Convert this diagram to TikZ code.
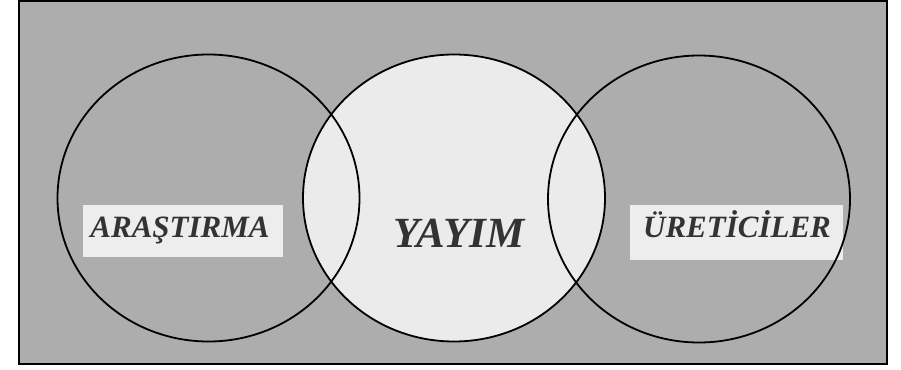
\documentclass[tikz,border=0pt]{standalone}
\usepackage{fontspec}
\setmainfont{Liberation Serif}
\usetikzlibrary{shapes.geometric}
\definecolor{bggray}{gray}{0.68}
\definecolor{midgray}{gray}{0.92}
\definecolor{bandgray}{gray}{0.93}
\tikzset{
  set/.style={ellipse, draw=black, line width=1.8pt, inner sep=0pt,
    minimum width=302pt, minimum height=287pt},
  lbl/.style={font=\bfseries\itshape\fontsize{31}{31}\selectfont, text=black!80, inner sep=0pt, anchor=base},
  band/.style={fill=bandgray, draw=none}
}
\begin{document}
\begin{tikzpicture}[x=1pt,y=-1pt]
\useasboundingbox (0,0) rectangle (901,369);
\fill[white] (0,0) rectangle (901,369);
\node[draw=black, line width=2pt, fill=bggray, inner sep=0pt, minimum width=868pt, minimum height=363pt] (frame) at (453,182.5) {};
\fill[band] (83,205) rectangle (283,257);
\fill[band] (630,205) rectangle (843,260);
\node[set, fill=midgray] (yayim) at (454,198) {};
\node[set] (arastirma) at (208.5,198) {};
\node[set] (ureticiler) at (699,199) {};
\node[lbl] (t1) at (180,237) {ARAŞTIRMA};
\node[lbl, font=\bfseries\itshape\fontsize{43}{43}\selectfont] (t2) at (459,247) {YAYIM};
\node[lbl] (t3) at (737,237) {ÜRETİCİLER};
\end{tikzpicture}
\end{document}
